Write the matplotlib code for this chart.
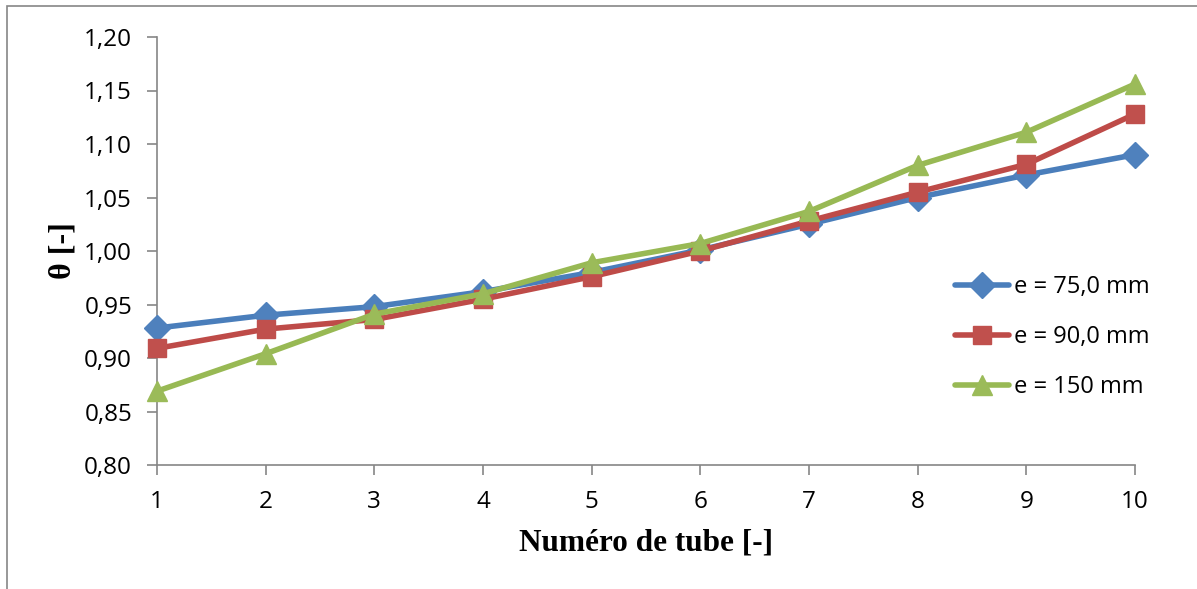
import matplotlib.pyplot as plt
from matplotlib.patches import Rectangle

tubes = [1, 2, 3, 4, 5, 6, 7, 8, 9, 10]
theta_75 = [0.928, 0.940, 0.948, 0.962, 0.980, 1.001, 1.025, 1.050, 1.071, 1.090]
theta_90 = [0.909, 0.927, 0.936, 0.955, 0.976, 1.000, 1.028, 1.055, 1.081, 1.128]
theta_150 = [0.869, 0.904, 0.941, 0.960, 0.989, 1.007, 1.037, 1.080, 1.111, 1.156]
y_ticks = [0.80, 0.85, 0.90, 0.95, 1.00, 1.05, 1.10, 1.15, 1.20]

series = [
    (theta_75, "e = 75,0 mm", "#4A7EBB", "#4F81BD", "D", 13.5),
    (theta_90, "e = 90,0 mm", "#BE4B48", "#C0504D", "s", 13),
    (theta_150, "e = 150 mm", "#98B954", "#9BBB59", "^", 14.5),
]

tick_font = "Open Sans"
label_font = "Liberation Serif"

fig = plt.figure(figsize=(11.97, 5.89), dpi=100)
ax = fig.add_axes([157 / 1197, 1 - 465 / 589, 978 / 1197, 428 / 589])

for values, label, lc, mc, marker, ms in series:
    ax.plot(tubes, values, color=lc, linewidth=4, marker=marker,
            markersize=ms, markerfacecolor=mc, markeredgecolor=mc,
            label=label, solid_capstyle="round", clip_on=False, zorder=3)

ax.set_xlim(1, 10)
ax.set_ylim(0.80, 1.20)
ax.set_xticks(tubes)
ax.set_yticks(y_ticks)
ax.set_yticklabels([f"{v:.2f}".replace(".", ",") for v in y_ticks])

for side in ("top", "right"):
    ax.spines[side].set_visible(False)
for side in ("left", "bottom"):
    ax.spines[side].set_color("#868686")
    ax.spines[side].set_linewidth(1.2)

ax.tick_params(axis="both", direction="out", length=7, width=1.2,
               color="#868686", labelsize=17.5)
ax.tick_params(axis="y", pad=11)
ax.tick_params(axis="x", pad=11)
for lbl in ax.get_xticklabels() + ax.get_yticklabels():
    lbl.set_fontfamily(tick_font)

ax.set_xlabel("Numéro de tube [-]", fontfamily=label_font,
              fontweight="bold", fontsize=22.5)
ax.xaxis.set_label_coords(0.5, (465 - 543) / 428)
ax.xaxis.label.set_va("center")
ax.set_ylabel("θ [-]", fontfamily=label_font, fontweight="bold", fontsize=23)
ax.yaxis.set_label_coords((63 - 157) / 978, 0.5)
ax.yaxis.label.set_va("center")

leg = ax.legend(loc="center left", bbox_to_anchor=((955 - 157) / 978, (465 - 337) / 428),
                frameon=False, borderpad=0, borderaxespad=0, handlelength=2.3,
                handletextpad=0.2, labelspacing=1.1,
                prop={"family": tick_font, "size": 17})

# outer chart border (left and top visible in the original)
fig.patches.append(Rectangle((7 / 1197, -0.1), 1.2, 1.1 - 6 / 589,
                             transform=fig.transFigure, fill=False,
                             edgecolor="#868686", linewidth=1.2))

fig.savefig("out.png", dpi=100)
